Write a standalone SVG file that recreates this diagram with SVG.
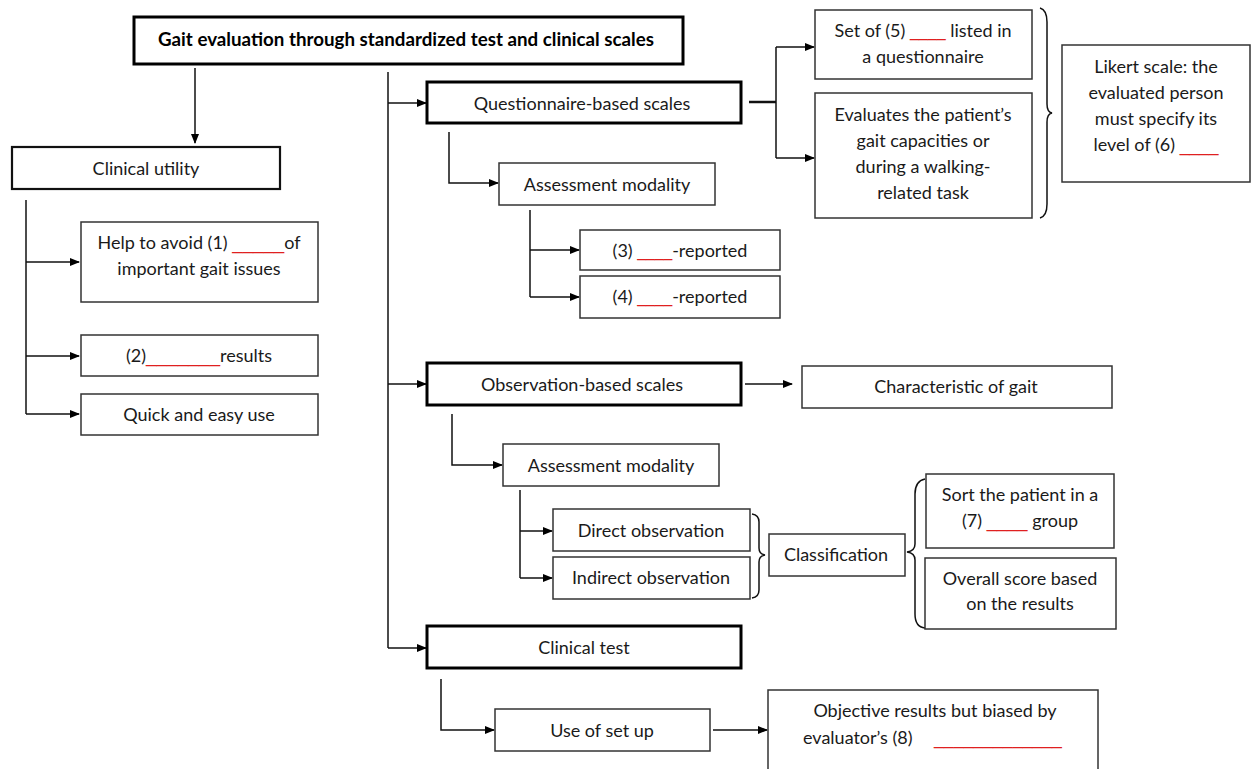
<svg xmlns="http://www.w3.org/2000/svg" width="1252" height="769" viewBox="0 0 1252 769">
<style>
  .box{fill:#fff;stroke:#333;stroke-width:1.5}
  .thick{fill:#fff;stroke:#000;stroke-width:3}
  .med{fill:#fff;stroke:#111;stroke-width:2.2}
  text{font-family:Lato,"Liberation Sans",sans-serif;font-size:18px;fill:#1a1a1a;text-anchor:middle}
  .title{font-weight:bold;font-size:18.5px;fill:#000}
  .red{fill:#e02020;font-family:"Liberation Sans",Arial,sans-serif}
  .conn line,.conn path{stroke:#111;stroke-width:1.5;fill:none}
  .conn .arr{marker-end:url(#ah)}
  .brace{stroke:#777;stroke-width:1.3;fill:none}
</style>
<defs>
  <marker id="ah" viewBox="0 0 10 10" refX="9" refY="5" markerWidth="10" markerHeight="10" markerUnits="userSpaceOnUse" orient="auto">
    <path d="M0,1 L10,5 L0,9 Z" fill="#000"/>
  </marker>
</defs>
<rect width="1252" height="769" fill="#fff"/>

<g class="conn" id="connectors">
  <line class="arr" x1="195" y1="68" x2="195" y2="143"/>
  <line x1="26" y1="200" x2="26" y2="414"/>
  <line class="arr" x1="26" y1="262" x2="79" y2="262"/>
  <line class="arr" x1="26" y1="356" x2="79" y2="356"/>
  <line class="arr" x1="26" y1="414" x2="79" y2="414"/>
  <line x1="388" y1="72" x2="388" y2="648"/>
  <line class="arr" x1="388" y1="103" x2="426" y2="103"/>
  <line class="arr" x1="388" y1="384" x2="426" y2="384"/>
  <line class="arr" x1="388" y1="648" x2="426" y2="648"/>
  <path class="arr" d="M449 132 V183 H498"/>
  <line x1="530" y1="210" x2="530" y2="297"/>
  <line class="arr" x1="530" y1="250" x2="579" y2="250"/>
  <line class="arr" x1="530" y1="297" x2="579" y2="297"/>
  <line x1="749" y1="102" x2="776" y2="102" style="stroke-width:2.5"/>
  <line x1="776" y1="47" x2="776" y2="158"/>
  <line class="arr" x1="776" y1="47" x2="814" y2="47"/>
  <line class="arr" x1="776" y1="158" x2="814" y2="158"/>
  <line class="arr" x1="745" y1="384" x2="792" y2="384"/>
  <path class="arr" d="M452 414 V465 H502"/>
  <line x1="520" y1="490" x2="520" y2="578"/>
  <line class="arr" x1="520" y1="531" x2="552" y2="531"/>
  <line class="arr" x1="520" y1="578" x2="552" y2="578"/>
  <path class="arr" d="M441 679 V730 H494"/>
  <line class="arr" x1="713" y1="730" x2="767" y2="730"/>
  <path class="brace" d="M1040 8 Q1047 10 1047 22 V104 Q1047 112 1052 113 Q1047 114 1047 122 V204 Q1047 216 1040 218"/>
  <path class="brace" d="M752 514 Q759 515 759 522 V548 Q759 554 765 555 Q759 556 759 562 V590 Q759 597 752 598"/>
  <path class="brace" d="M925 479 Q915 481 915 494 V544 Q915 551 907 552 Q915 553 915 560 V614 Q915 627 925 628"/>
</g>

<g id="title"><rect class="thick" x="134" y="17" width="549" height="47"/>
  <text class="title" x="406" y="46" textLength="496" lengthAdjust="spacingAndGlyphs">Gait evaluation through standardized test and clinical scales</text></g>

<g id="clinical-utility"><rect class="med" x="12" y="147" width="268" height="42"/>
  <text x="146" y="175">Clinical utility</text></g>
<g id="help-avoid"><rect class="box" x="81" y="222" width="237" height="80"/>
  <text x="199" y="249">Help to avoid (1) <tspan class="red" style="font-size:18.7px">_____</tspan>of</text>
  <text x="199" y="275">important gait issues</text></g>
<g id="results"><rect class="box" x="81" y="335" width="237" height="41"/>
  <text x="199" y="362">(2)<tspan class="red" style="font-size:19px">_______</tspan>results</text></g>
<g id="quick-use"><rect class="box" x="81" y="394" width="237" height="41"/>
  <text x="199" y="421">Quick and easy use</text></g>

<g id="questionnaire"><rect class="thick" x="427" y="82" width="314" height="41"/>
  <text x="582" y="110">Questionnaire-based scales</text></g>
<g id="q-assessment"><rect class="box" x="499" y="163" width="216" height="42"/>
  <text x="607" y="191">Assessment modality</text></g>
<g id="reported-3"><rect class="box" x="580" y="230" width="200" height="40"/>
  <text x="680" y="257">(3) <tspan class="red" style="font-size:15.7px">____</tspan>-reported</text></g>
<g id="reported-4"><rect class="box" x="580" y="276" width="200" height="42"/>
  <text x="680" y="303">(4) <tspan class="red" style="font-size:15.7px">____</tspan>-reported</text></g>
<g id="set-of-5"><rect class="box" x="815" y="10" width="217" height="69"/>
  <text x="923" y="37">Set of (5) <tspan class="red" style="font-size:16px">____</tspan> listed in</text>
  <text x="923" y="63">a questionnaire</text></g>
<g id="evaluates"><rect class="box" x="815" y="93" width="217" height="125"/>
  <text x="923" y="121">Evaluates the patient’s</text>
  <text x="923" y="147">gait capacities or</text>
  <text x="923" y="173">during a walking-</text>
  <text x="923" y="199">related task</text></g>
<g id="likert"><rect class="box" x="1062" y="45" width="188" height="137"/>
  <text x="1156" y="73">Likert scale: the</text>
  <text x="1156" y="99">evaluated person</text>
  <text x="1156" y="125">must specify its</text>
  <text x="1156" y="151">level of (6) <tspan class="red" style="font-size:17.5px">____</tspan></text></g>

<g id="observation"><rect class="thick" x="427" y="363" width="314" height="42"/>
  <text x="582" y="391">Observation-based scales</text></g>
<g id="characteristic"><rect class="box" x="802" y="366" width="310" height="42"/>
  <text x="956" y="393">Characteristic of gait</text></g>
<g id="o-assessment"><rect class="box" x="503" y="444" width="216" height="42"/>
  <text x="611" y="472">Assessment modality</text></g>
<g id="direct"><rect class="box" x="553" y="509" width="197" height="42"/>
  <text x="651" y="537">Direct observation</text></g>
<g id="indirect"><rect class="box" x="553" y="557" width="197" height="42"/>
  <text x="651" y="584">Indirect observation</text></g>
<g id="classification"><rect class="box" x="769" y="534" width="136" height="42"/>
  <text x="836" y="561">Classification</text></g>
<g id="sort"><rect class="box" x="926" y="474" width="188" height="74"/>
  <text x="1020" y="501">Sort the patient in a</text>
  <text x="1020" y="527">(7) <tspan class="red" style="font-size:18.4px">____</tspan> group</text></g>
<g id="overall"><rect class="box" x="925" y="558" width="191" height="71"/>
  <text x="1020" y="585">Overall score based</text>
  <text x="1020" y="610">on the results</text></g>

<g id="clinical-test"><rect class="thick" x="427" y="626" width="314" height="42"/>
  <text x="584" y="654">Clinical test</text></g>
<g id="setup"><rect class="box" x="495" y="709" width="215" height="42"/>
  <text x="602" y="737">Use of set up</text></g>
<g id="objective"><rect class="box" x="768" y="690" width="330" height="90"/>
  <text x="935" y="717">Objective results but biased by</text>
  <text x="803" y="744" style="text-anchor:start">evaluator’s (8)  <tspan class="red" x="934" style="font-size:17.7px">_____________</tspan></text></g>
</svg>
